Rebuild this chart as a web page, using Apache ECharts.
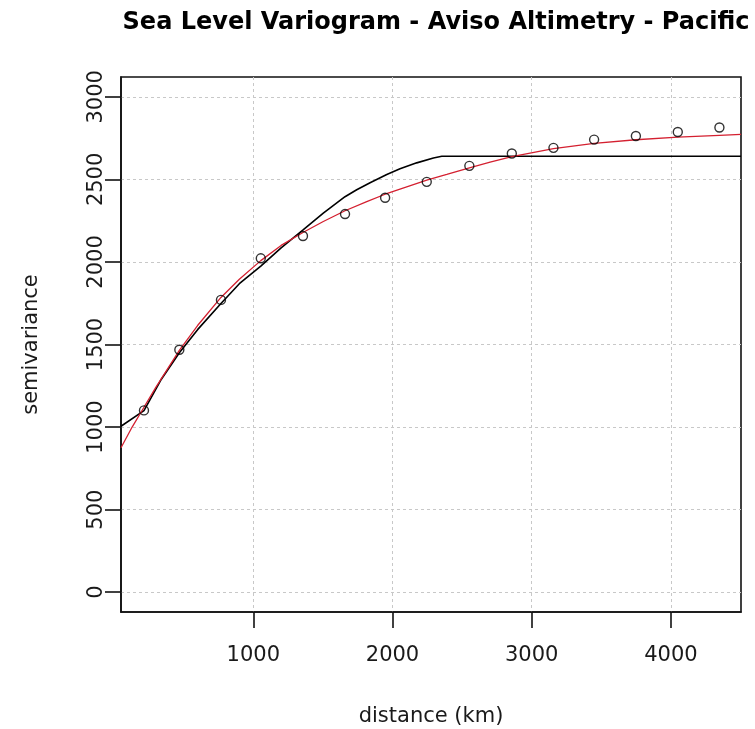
<!DOCTYPE html>
<html>
<head>
<meta charset="utf-8">
<script src="https://cdn.jsdelivr.net/npm/echarts@6/dist/echarts.min.js"></script>
<style>html,body{margin:0;padding:0;background:#fff}#c{width:755px;height:729px}</style>
</head>
<body>
<div id="c"></div>
<script>
// Empirical semivariance points (distance km, semivariance)
var lagDist = [215, 469, 768, 1054, 1357, 1659, 1947, 2246, 2552, 2857, 3156, 3448, 3748, 4049, 4348];
var semiVar = [1101, 1468, 1770, 2022, 2157, 2290, 2389, 2485, 2582, 2657, 2691, 2741, 2763, 2787, 2814];

// Black fitted model curve
var blackDist = [50, 215, 340, 469, 600, 768, 900, 1054, 1200, 1360, 1503, 1659, 1743, 1839, 1959, 2054, 2174, 2294, 2354, 3000, 4503];
var blackVal  = [1005, 1100, 1290, 1450, 1590, 1748, 1868, 1975, 2085, 2195, 2295, 2395, 2437, 2480, 2530, 2564, 2600, 2630, 2640, 2640, 2640];

// Red fitted model curve
var redDist = [50, 130, 215, 300, 469, 600, 768, 900, 1054, 1200, 1360, 1503, 1659, 1815, 1947, 2102, 2246, 2390, 2552, 2701, 2857, 3156, 3448, 3748, 4049, 4348, 4503];
var redVal  = [875, 1000, 1120, 1240, 1465, 1615, 1785, 1895, 2008, 2100, 2180, 2245, 2310, 2365, 2410, 2455, 2495, 2530, 2570, 2605, 2638, 2686, 2718, 2740, 2756, 2767, 2772];

var xTicks = [1000, 2000, 3000, 4000];
var yTicks = [0, 500, 1000, 1500, 2000, 2500, 3000];

function zip(a, b) { return a.map(function (v, i) { return [v, b[i]]; }); }
function plain(v) { return String(v); }

var font = 'DejaVu Sans, sans-serif';
var txt = '#1a1a1a';
var chart = echarts.init(document.getElementById('c'), null, {renderer: 'canvas'});
chart.setOption({
  animation: false,
  backgroundColor: '#ffffff',
  title: {
    text: 'Sea Level Variogram - Aviso Altimetry - Pacific',
    left: 431, top: 6, textAlign: 'center',
    textStyle: {fontFamily: font, fontWeight: 'bold', fontSize: 24, color: '#000'}
  },
  grid: {left: 121, right: 14, top: 77, bottom: 117, outerBoundsMode: 'none', containLabel: false,
         show: true, borderColor: '#111', borderWidth: 1.6, backgroundColor: 'transparent'},
  xAxis: {
    type: 'value', min: 50, max: 4503,
    name: 'distance (km)', nameLocation: 'middle', nameGap: 94,
    nameTextStyle: {fontFamily: font, fontSize: 21, color: txt},
    axisLine: {show: true, onZero: false, lineStyle: {color: '#111', width: 1.6}},
    axisTick: {show: true, inside: false, length: 16, customValues: xTicks, lineStyle: {color: '#111', width: 1.6}},
    axisLabel: {show: true, customValues: xTicks, formatter: plain, margin: 33, fontFamily: font, fontSize: 21, color: txt},
    splitLine: {show: true, lineStyle: {color: '#c8c8c8', type: [3, 3], width: 1}}
  },
  yAxis: {
    type: 'value', min: -120, max: 3120,
    name: 'semivariance', nameLocation: 'middle', nameGap: 79, nameRotate: 90,
    nameTextStyle: {fontFamily: font, fontSize: 21, color: txt},
    axisLine: {show: true, onZero: false, lineStyle: {color: '#111', width: 1.6}},
    axisTick: {show: true, inside: false, length: 16, customValues: yTicks, lineStyle: {color: '#111', width: 1.6}},
    axisLabel: {show: true, customValues: yTicks, formatter: plain, rotate: 90, margin: 14, fontFamily: font, fontSize: 21, color: txt},
    splitLine: {show: true, lineStyle: {color: '#c8c8c8', type: [3, 3], width: 1}}
  },
  series: [
    {
      type: 'line', data: zip(blackDist, blackVal), showSymbol: false, smooth: false,
      lineStyle: {color: '#000', width: 1.6}, z: 2, silent: true
    },
    {
      type: 'line', data: zip(redDist, redVal), showSymbol: false, smooth: false,
      lineStyle: {color: '#d42030', width: 1.3}, z: 3, silent: true
    },
    {
      type: 'scatter', data: zip(lagDist, semiVar), symbol: 'circle', symbolSize: 9,
      itemStyle: {color: 'rgba(255,255,255,0)', borderColor: '#000', borderWidth: 1.4}, z: 4, silent: true
    }
  ]
});
</script>
</body>
</html>
